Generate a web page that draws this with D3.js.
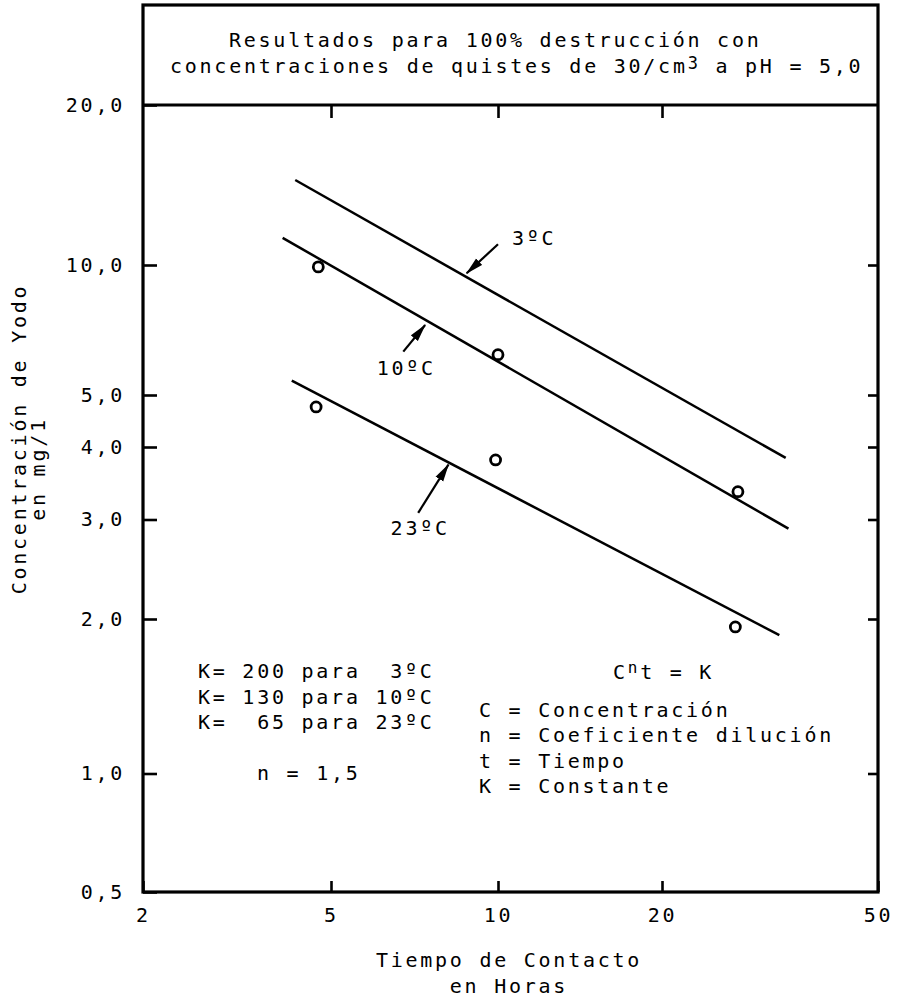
<!DOCTYPE html>
<html>
<head>
<meta charset="utf-8">
<script src="https://cdnjs.cloudflare.com/ajax/libs/d3/7.8.5/d3.min.js"></script>
<style>
body { margin: 0; background: #fff; }
text { font-family: "DejaVu Sans Mono", monospace; font-size: 20px; letter-spacing: 2.75px; fill: #000; }
</style>
</head>
<body>
<div id="chart"></div>
<script>
// axis values
var xTicks = [2, 5, 10, 20, 50];
var xTickLabels = ["2", "5", "10", "20", "50"];
var yTicks = [0.5, 1, 2, 3, 4, 5, 10, 20];
var yTickLabels = ["0,5", "1,0", "2,0", "3,0", "4,0", "5,0", "10,0", "20,0"];

// measured points (hours, mg/l)
var time10 = [4.7, 10, 27.6];
var conc10 = [9.9, 6.2, 3.35];
var time23 = [4.65, 9.9, 27.3];
var conc23 = [4.75, 3.8, 1.93];

// fitted lines, [t, C] at both ends
var temps = ["3ºC", "10ºC", "23ºC"];
var lineT = [[4.2, 33.8], [3.95, 34.2], [4.13, 32.9]];
var lineC = [[14.45, 3.83], [11.25, 2.89], [5.4, 1.86]];

// arrows pointing at each line: tail and tip [t, C]
var arrowFrom = [[10, 10.94], [6.75, 6.3], [7.18, 3.08]];
var arrowTo = [[8.78, 9.57], [7.39, 7.26], [8.14, 3.73]];

var margin = {top: 105, right: 22, bottom: 107, left: 143},
    width = 900 - margin.left - margin.right,
    height = 999 - margin.top - margin.bottom;

var svg = d3.select("#chart")
  .append("svg")
    .attr("width", width + margin.left + margin.right)
    .attr("height", height + margin.top + margin.bottom)
  .append("g")
    .attr("transform", "translate(" + margin.left + "," + margin.top + ")");

// the paper was drawn by hand, so decades are not evenly spaced:
// piecewise log scales through the printed tick positions
var x = d3.scaleLog()
  .domain(xTicks)
  .range([0, 188, 355, 519, width]);
var y = d3.scaleLog()
  .domain(yTicks)
  .range([height, 668.5, 514, 414.5, 342, 290, 160, 0]);

var defs = svg.append("defs");
defs.append("marker")
    .attr("id", "head")
    .attr("markerUnits", "userSpaceOnUse")
    .attr("viewBox", "0 0 18 10")
    .attr("markerWidth", 18)
    .attr("markerHeight", 10)
    .attr("refX", 17)
    .attr("refY", 5)
    .attr("orient", "auto")
  .append("path")
    .attr("d", "M0,0.5 L18,5 L0,9.5 Z")
    .attr("fill", "#000");

// frame with title box on top
svg.append("rect")
    .attr("x", 0)
    .attr("y", -100)
    .attr("width", width)
    .attr("height", height + 100)
    .attr("fill", "none")
    .attr("stroke", "#000")
    .attr("stroke-width", 3.2);
svg.append("line")
    .attr("x1", 0).attr("x2", width)
    .attr("y1", y(20)).attr("y2", y(20))
    .attr("stroke", "#000")
    .attr("stroke-width", 3.2);

var title = svg.append("g").attr("transform", "translate(0,-100)");
title.append("text")
    .attr("x", 86).attr("y", 42)
    .text("Resultados para 100% destrucción con");
var t2 = title.append("text").attr("x", 27).attr("y", 68);
t2.append("tspan").text("concentraciones de quistes de 30/cm");
t2.append("tspan").attr("dy", -4).style("font-size", "17px").text("3");
t2.append("tspan").attr("dy", 4).text(" a pH = 5,0");

// axes: ticks point inwards
function styleAxis(g) {
  g.select(".domain").remove();
  g.selectAll(".tick line").attr("stroke-width", 2.6);
}

svg.append("g")
    .attr("transform", "translate(0," + height + ")")
    .call(d3.axisBottom(x).tickValues(xTicks)
      .tickFormat(function(d, i) { return xTickLabels[i]; })
      .tickSizeInner(-11).tickSizeOuter(0).tickPadding(16))
    .call(styleAxis);

svg.append("g")
    .call(d3.axisTop(x).tickValues(xTicks.slice(1, 4))
      .tickFormat("").tickSizeInner(-13).tickSizeOuter(0))
    .call(styleAxis);

svg.append("g")
    .call(d3.axisLeft(y).tickValues(yTicks)
      .tickFormat(function(d, i) { return yTickLabels[i]; })
      .tickSizeInner(-14).tickSizeOuter(0).tickPadding(18))
    .call(styleAxis);

svg.append("g")
    .attr("transform", "translate(" + width + ",0)")
    .call(d3.axisRight(y).tickValues(yTicks.slice(1, 7))
      .tickFormat("").tickSizeInner(-10).tickSizeOuter(0))
    .call(styleAxis);

// axis titles
svg.append("text")
    .attr("text-anchor", "middle")
    .attr("x", 366).attr("y", 862)
    .text("Tiempo de Contacto");
svg.append("text")
    .attr("text-anchor", "middle")
    .attr("x", 366).attr("y", 888)
    .text("en Horas");

var ytitle = svg.append("g")
    .attr("transform", "translate(-117," + 334 + ") rotate(-90)");
ytitle.append("text")
    .attr("text-anchor", "middle")
    .attr("y", 0)
    .text("Concentración de Yodo");
ytitle.append("text")
    .attr("text-anchor", "middle")
    .attr("x", -30).attr("y", 19)
    .text("en mg/1");

// fitted lines
var line = d3.line()
    .x(function(d) { return x(d[0]); })
    .y(function(d) { return y(d[1]); });

temps.forEach(function(name, i) {
  var pts = lineT[i].map(function(t, j) { return [t, lineC[i][j]]; });
  svg.append("path")
      .datum(pts)
      .attr("d", line)
      .attr("fill", "none")
      .attr("stroke", "#000")
      .attr("stroke-width", 2.5);

  svg.append("line")
      .attr("x1", x(arrowFrom[i][0])).attr("y1", y(arrowFrom[i][1]))
      .attr("x2", x(arrowTo[i][0])).attr("y2", y(arrowTo[i][1]))
      .attr("stroke", "#000")
      .attr("stroke-width", 2.2)
      .attr("marker-end", "url(#head)");
});

// curve labels next to the arrow tails
svg.append("text")
    .attr("x", x(arrowFrom[0][0]) + 14).attr("y", y(arrowFrom[0][1]) + 1)
    .text(temps[0]);
svg.append("text")
    .attr("text-anchor", "middle")
    .attr("x", x(arrowFrom[1][0]) + 3).attr("y", y(arrowFrom[1][1]) + 23)
    .text(temps[1]);
svg.append("text")
    .attr("text-anchor", "middle")
    .attr("x", x(arrowFrom[2][0]) + 2).attr("y", y(arrowFrom[2][1]) + 22)
    .text(temps[2]);

// data points
var pts10 = time10.map(function(t, i) { return [t, conc10[i]]; });
var pts23 = time23.map(function(t, i) { return [t, conc23[i]]; });
svg.selectAll("circle.p")
    .data(pts10.concat(pts23))
    .enter()
    .append("circle")
      .attr("class", "p")
      .attr("cx", function(d) { return x(d[0]); })
      .attr("cy", function(d) { return y(d[1]); })
      .attr("r", 5)
      .attr("fill", "#fff")
      .attr("stroke", "#000")
      .attr("stroke-width", 2.8);

// notes, lower left
var notesL = ["K= 200 para  3ºC", "K= 130 para 10ºC", "K=  65 para 23ºC"];
notesL.forEach(function(s, i) {
  svg.append("text")
      .attr("x", 55).attr("y", 573 + i * 25.5)
      .attr("xml:space", "preserve")
      .style("white-space", "pre")
      .text(s);
});
svg.append("text")
    .attr("x", 114).attr("y", 675)
    .text("n = 1,5");

// notes, lower right
var f = svg.append("text").attr("x", 470).attr("y", 574);
f.append("tspan").text("C");
f.append("tspan").attr("dy", -6).style("font-size", "16px").text("n");
f.append("tspan").attr("dy", 6).text("t = K");

var notesR = ["C = Concentración", "n = Coeficiente dilución", "t = Tiempo", "K = Constante"];
notesR.forEach(function(s, i) {
  svg.append("text")
      .attr("x", 336).attr("y", 612 + i * 25.3)
      .text(s);
});
</script>
</body>
</html>
